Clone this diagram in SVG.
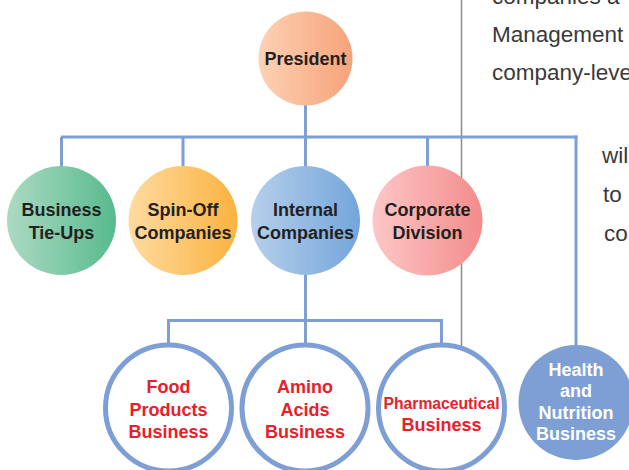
<svg xmlns="http://www.w3.org/2000/svg" width="629" height="470" viewBox="0 0 629 470">
  <defs>
    <linearGradient id="gPresident" x1="0" y1="0" x2="1" y2="0">
      <stop offset="0" stop-color="#fdd2b4"/>
      <stop offset="1" stop-color="#f6a27a"/>
    </linearGradient>
    <linearGradient id="gTieUps" x1="0" y1="0" x2="1" y2="0">
      <stop offset="0" stop-color="#acdac3"/>
      <stop offset="1" stop-color="#57ba8e"/>
    </linearGradient>
    <linearGradient id="gSpinOff" x1="0" y1="0" x2="1" y2="0">
      <stop offset="0" stop-color="#fedb9f"/>
      <stop offset="1" stop-color="#fbb240"/>
    </linearGradient>
    <linearGradient id="gInternal" x1="0" y1="0" x2="1" y2="0">
      <stop offset="0" stop-color="#b6cfec"/>
      <stop offset="1" stop-color="#74a6db"/>
    </linearGradient>
    <linearGradient id="gCorporate" x1="0" y1="0" x2="1" y2="0">
      <stop offset="0" stop-color="#fcc7c6"/>
      <stop offset="1" stop-color="#f38c8c"/>
    </linearGradient>
  </defs>
  <style>
    .lbl { font-family: "Liberation Sans", Arial, sans-serif; font-size: 18px; font-weight: bold; fill: #231f20; text-anchor: middle; }
    .red { fill: #e8202a; }
    .white { fill: #ffffff; }
    .link { fill: none; stroke: #7d9fd6; stroke-width: 3; }
    .ring { fill: #ffffff; stroke: #7d9fd6; stroke-width: 5; }
    .body { font-family: "Liberation Sans", Arial, sans-serif; font-size: 22.5px; fill: #3a3a3a; }
  </style>

  <!-- page column divider -->
  <line x1="461.5" y1="0" x2="461.5" y2="346" stroke="#8c8c8c" stroke-width="1.5"/>

  <!-- body text of the adjacent column -->
  <g id="column-text" class="body">
    <text x="492" y="4">companies a</text>
    <text x="492" y="42">Management</text>
    <text x="492" y="80">company-leve</text>
    <text x="602" y="163">wil</text>
    <text x="603" y="202">to</text>
    <text x="604" y="241">co</text>
  </g>

  <!-- connectors -->
  <g id="connectors" class="link">
    <line x1="305.5" y1="104" x2="305.5" y2="137"/>
    <line x1="61" y1="137" x2="577.5" y2="137"/>
    <line x1="61.5" y1="137" x2="61.5" y2="167"/>
    <line x1="183" y1="137" x2="183" y2="167"/>
    <line x1="305.5" y1="137" x2="305.5" y2="167"/>
    <line x1="427.5" y1="137" x2="427.5" y2="167"/>
    <line x1="576" y1="135.5" x2="576" y2="346"/>
    <line x1="305.5" y1="274" x2="305.5" y2="344"/>
    <line x1="168.5" y1="320.5" x2="441.5" y2="320.5"/>
    <line x1="168.5" y1="319" x2="168.5" y2="344"/>
    <line x1="441.5" y1="319" x2="441.5" y2="344"/>
  </g>

  <g id="president">
    <circle cx="305.5" cy="58.5" r="47" fill="url(#gPresident)"/>
    <text class="lbl" x="305.5" y="65">President</text>
  </g>

  <g id="business-tie-ups">
    <circle cx="61.5" cy="220.5" r="54.5" fill="url(#gTieUps)"/>
    <text class="lbl" x="61.5" y="216">Business</text>
    <text class="lbl" x="61.5" y="239">Tie-Ups</text>
  </g>

  <g id="spin-off-companies">
    <circle cx="183" cy="220.5" r="54.5" fill="url(#gSpinOff)"/>
    <text class="lbl" x="183" y="216">Spin-Off</text>
    <text class="lbl" x="183" y="239">Companies</text>
  </g>

  <g id="internal-companies">
    <circle cx="305.5" cy="220.5" r="54.5" fill="url(#gInternal)"/>
    <text class="lbl" x="305.5" y="216">Internal</text>
    <text class="lbl" x="305.5" y="239">Companies</text>
  </g>

  <g id="corporate-division">
    <circle cx="427.5" cy="220.5" r="55" fill="url(#gCorporate)"/>
    <text class="lbl" x="427.5" y="216">Corporate</text>
    <text class="lbl" x="427.5" y="239">Division</text>
  </g>

  <g id="food-products-business">
    <circle class="ring" cx="168.5" cy="408" r="63"/>
    <text class="lbl red" x="168.5" y="393">Food</text>
    <text class="lbl red" x="168.5" y="416">Products</text>
    <text class="lbl red" x="168.5" y="438">Business</text>
  </g>

  <g id="amino-acids-business">
    <circle class="ring" cx="305" cy="408" r="63"/>
    <text class="lbl red" x="305" y="393">Amino</text>
    <text class="lbl red" x="305" y="416">Acids</text>
    <text class="lbl red" x="305" y="438">Business</text>
  </g>

  <g id="pharmaceutical-business">
    <circle class="ring" cx="441.5" cy="408" r="63"/>
    <text class="lbl red" x="441.5" y="409" style="font-size:17px" textLength="116" lengthAdjust="spacingAndGlyphs">Pharmaceutical</text>
    <text class="lbl red" x="441.5" y="431">Business</text>
  </g>

  <g id="health-and-nutrition-business">
    <circle cx="576" cy="402.5" r="57.5" fill="#7e9fd4"/>
    <text class="lbl white" x="576" y="376">Health</text>
    <text class="lbl white" x="576" y="397">and</text>
    <text class="lbl white" x="576" y="419">Nutrition</text>
    <text class="lbl white" x="576" y="440">Business</text>
  </g>
</svg>
